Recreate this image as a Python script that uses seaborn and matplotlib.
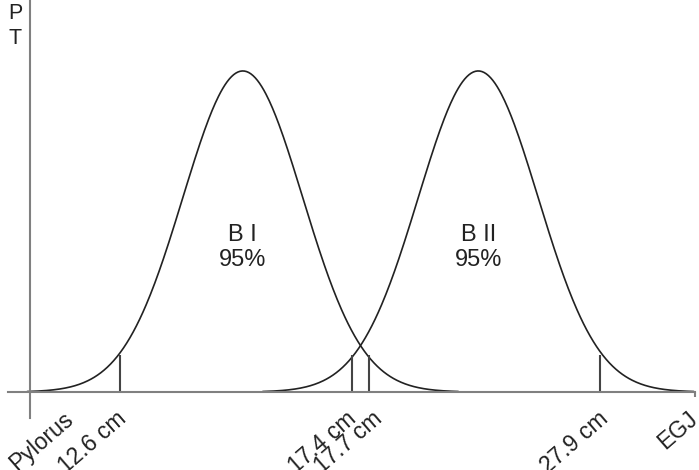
import numpy as np
import pandas as pd
import matplotlib
matplotlib.use("Agg")
import matplotlib.pyplot as plt
import matplotlib.transforms as mtransforms
import seaborn as sns

# schematic position along the axis: 0 = pylorus, 100 = EGJ
curve_names = ["B I", "B II"]
curve_centers = [32.0, 67.4]
curve_sigma = [9.0, 9.0]
curve_coverage = ["95%", "95%"]

mark_pos = [13.5, 48.4, 51.0, 85.7]
mark_labels = ["12.6 cm", "17.4 cm", "17.7 cm", "27.9 cm"]

end_pos = [0, 100]
end_labels = ["Pylorus", "EGJ"]

sns.set_style("white")
plt.rcParams["font.family"] = ["Liberation Sans", "DejaVu Sans"]

# bell curves, scaled so the peak is 1
rows = []
for name, mu, sd in zip(curve_names, curve_centers, curve_sigma):
    x = np.linspace(mu - 3.6 * sd, mu + 3.6 * sd, 400)
    rows.append(pd.DataFrame({"pos": x,
                              "p": np.exp(-0.5 * ((x - mu) / sd) ** 2),
                              "segment": name}))
df = pd.concat(rows, ignore_index=True)

fig = plt.figure(figsize=(6.99, 4.70), dpi=100)
ax = fig.add_axes([0, 0, 1, 1])

sns.lineplot(data=df, x="pos", y="p", units="segment", estimator=None,
             color="#222222", lw=1.2, ax=ax, legend=False)

ax.set_xlim(-4.51, 100.6)
ax.set_ylim(-0.243, 1.221)

# axes drawn as spines through the origin
for side in ["top", "right"]:
    ax.spines[side].set_visible(False)
ax.spines["left"].set_position(("data", 0))
ax.spines["bottom"].set_position(("data", 0))
ax.spines["left"].set_bounds(-0.081, 1.221)
ax.spines["bottom"].set_bounds(-3.3, 100)
for side in ["left", "bottom"]:
    ax.spines[side].set_color("#808080")
    ax.spines[side].set_linewidth(1.5)
ax.vlines(end_pos[1], -0.016, 0, color="#808080", lw=1.5)

# cut-off marks
ax.vlines(mark_pos, 0, 0.115, color="#444444", lw=1.5)

ticks = [end_pos[0]] + mark_pos + [end_pos[1]]
labels = [end_labels[0]] + mark_labels + [end_labels[1]]
ax.set_xticks(ticks, labels)
ax.set_yticks([])
ax.tick_params(axis="x", length=0, pad=11, labelsize=16.5, labelcolor="#222222")
ax.set_xlabel("")
ax.set_ylabel("")

shift_px = [33, -4, -6, 2, -2, -8]
for lab, dx in zip(ax.get_xticklabels(), shift_px):
    lab.set_rotation(41)
    lab.set_ha("right")
    lab.set_rotation_mode("anchor")
    lab.set_transform(lab.get_transform() +
                      mtransforms.ScaledTranslation(dx / 100, 0, fig.dpi_scale_trans))

for name, mu, cov in zip(curve_names, curve_centers, curve_coverage):
    ax.text(mu, 0.45, f"{name}\n{cov}", ha="center", va="center",
            multialignment="center", fontsize=17, color="#222222",
            linespacing=1.15)

ax.text(15 / 699, 1 - 26 / 470, "P\nT", transform=ax.transAxes,
        ha="center", va="center", fontsize=15.5, color="#222222", linespacing=1.3)

fig.savefig("out.png", dpi=100)
